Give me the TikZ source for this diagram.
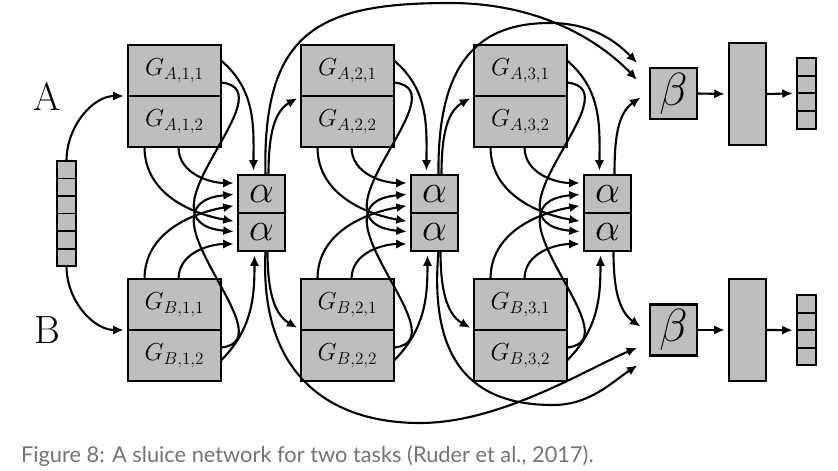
\RequirePackage{fix-cm}
\documentclass[tikz,border=0pt]{standalone}
\usepackage{amsmath,amssymb}
\usepackage{fontspec}
\newfontfamily\captionfont{Lato}
\usetikzlibrary{positioning,calc,arrows.meta}
\definecolor{boxgray}{RGB}{190,190,190}
\definecolor{captiongray}{RGB}{115,115,115}

\begin{document}
\begin{tikzpicture}[
                    x=0.025cm, y=0.025cm,
                    ->,
                    >={Latex[length=7.5pt,width=6.5pt]},
                    shorten >=3pt,
                    line width=1.5pt,
                    sub/.style={draw, fill=boxgray, line width=1.7pt, inner sep=0pt, outer sep=0pt,
                        minimum width=2.325cm, minimum height=1.275cm,
                        font=\fontsize{17.5}{20}\selectfont},
                    mix/.style={draw, fill=boxgray, line width=1.7pt, inner sep=0pt, outer sep=0pt,
                        minimum width=1.175cm, minimum height=0.95cm,
                        font=\fontsize{28}{30}\selectfont},
                    fc/.style={draw, fill=boxgray, line width=1.7pt, inner sep=0pt, outer sep=0pt,
                        minimum width=0.925cm, minimum height=2.55cm},
                    cell/.style={draw, fill=boxgray, line width=1.4pt, inner sep=0pt, outer sep=0pt,
                        minimum width=0.475cm, minimum height=0.4375cm},
                    task/.style={font=\fontsize{28}{30}\selectfont}
                ]
                \useasboundingbox (0,0) rectangle (838,470);

                % input vector and task labels
                \node[cell] (in1) at (66.5,300.25) {};
                \node[cell, below=0pt of in1] (in2) {};
                \node[cell, below=0pt of in2] (in3) {};
                \node[cell, below=0pt of in3] (in4) {};
                \node[cell, below=0pt of in4] (in5) {};
                \node[cell, below=0pt of in5] (in6) {};
                \node[task] (labA) at (47,373) {A};
                \node[task] (labB) at (47,140) {B};

                % layer 1
                \node[sub] (GA11) at (174.5,399.5) {$G_{A,1,1}$};
                \node[sub, below=0pt of GA11] (GA12) {$G_{A,1,2}$};
                \node[sub] (GB11) at (174.5,165.5) {$G_{B,1,1}$};
                \node[sub, below=0pt of GB11] (GB12) {$G_{B,1,2}$};
                \node[mix] (a1u) at (261.5,276) {$\alpha$};
                \node[mix, below=0pt of a1u] (a1l) {$\alpha$};

                % layer 2
                \node[sub] (GA21) at (347.5,399.5) {$G_{A,2,1}$};
                \node[sub, below=0pt of GA21] (GA22) {$G_{A,2,2}$};
                \node[sub] (GB21) at (347.5,165.5) {$G_{B,2,1}$};
                \node[sub, below=0pt of GB21] (GB22) {$G_{B,2,2}$};
                \node[mix] (a2u) at (434.5,276) {$\alpha$};
                \node[mix, below=0pt of a2u] (a2l) {$\alpha$};

                % layer 3
                \node[sub] (GA31) at (520.5,399.5) {$G_{A,3,1}$};
                \node[sub, below=0pt of GA31] (GA32) {$G_{A,3,2}$};
                \node[sub] (GB31) at (520.5,165.5) {$G_{B,3,1}$};
                \node[sub, below=0pt of GB31] (GB32) {$G_{B,3,2}$};
                \node[mix] (a3u) at (607.5,276) {$\alpha$};
                \node[mix, below=0pt of a3u] (a3l) {$\alpha$};

                % beta units and task outputs
                \node[mix, minimum height=1.275cm, font=\fontsize{33}{35}\selectfont] (betaA) at (673.5,376.5) {$\beta$};
                \node[mix, minimum height=1.275cm, font=\fontsize{33}{35}\selectfont] (betaB) at (673.5,140) {$\beta$};
                \node[fc] (fcA) at (747.5,376) {};
                \node[fc] (fcB) at (747.5,140) {};
                \node[cell, minimum height=0.44cm] (outA1) at (806.5,403.1) {};
                \node[cell, minimum height=0.44cm, below=0pt of outA1] (outA2) {};
                \node[cell, minimum height=0.44cm, below=0pt of outA2] (outA3) {};
                \node[cell, minimum height=0.44cm, below=0pt of outA3] (outA4) {};
                \node[cell, minimum height=0.44cm] (outB1) at (806.5,166.25) {};
                \node[cell, minimum height=0.44cm, below=0pt of outB1] (outB2) {};
                \node[cell, minimum height=0.44cm, below=0pt of outB2] (outB3) {};
                \node[cell, minimum height=0.44cm, below=0pt of outB3] (outB4) {};

                \node[anchor=west, inner sep=0pt, text=captiongray,
                      font=\captionfont\fontsize{15.5}{17}\selectfont] (caption) at (20,14)
                      {Figure 8: A sluice network for two tasks (Ruder et al., 2017).};

                % input to first layer
                \draw (in1.north) to[out=90,in=180] (GA11.south west);
                \draw (in6.south) to[out=-90,in=180] (GB11.south west);

                % layer 1 into alpha
                \draw ($(GA11.east)+(0,10)$) to[out=-40,in=90] ($(a1u.north)+(-8,0)$);
                \draw ($(GA11.east)+(0,-12)$) .. controls +(69,-7) and +(-108,10) .. (a1l.west);
                \draw ($(GA12.south)+(4,0)$) to[out=-90,in=180] ($(a1u.west)+(0,11)$);
                \draw ($(GA12.south)+(-30,0)$) to[out=-90,in=170] ($(a1l.west)+(0,10)$);
                \draw ($(GB11.north)+(-30,0)$) to[out=90,in=190] ($(a1u.west)+(0,-11)$);
                \draw ($(GB11.north)+(4,0)$) to[out=90,in=180] ($(a1l.west)+(0,-12)$);
                \draw ($(GB12.east)+(0,-5)$) to[out=45,in=-90] ($(a1l.south)+(-7,0)$);
                \draw ($(GB12.east)+(0,8)$) .. controls +(69,7) and +(-108,-10) .. (a1u.west);

                % layer 2 into alpha
                \draw ($(GA21.east)+(0,10)$) to[out=-40,in=90] ($(a2u.north)+(-8,0)$);
                \draw ($(GA21.east)+(0,-12)$) .. controls +(69,-7) and +(-108,10) .. (a2l.west);
                \draw ($(GA22.south)+(4,0)$) to[out=-90,in=180] ($(a2u.west)+(0,11)$);
                \draw ($(GA22.south)+(-30,0)$) to[out=-90,in=170] ($(a2l.west)+(0,10)$);
                \draw ($(GB21.north)+(-30,0)$) to[out=90,in=190] ($(a2u.west)+(0,-11)$);
                \draw ($(GB21.north)+(4,0)$) to[out=90,in=180] ($(a2l.west)+(0,-12)$);
                \draw ($(GB22.east)+(0,-5)$) to[out=45,in=-90] ($(a2l.south)+(-7,0)$);
                \draw ($(GB22.east)+(0,8)$) .. controls +(69,7) and +(-108,-10) .. (a2u.west);

                % layer 3 into alpha
                \draw ($(GA31.east)+(0,10)$) to[out=-40,in=90] ($(a3u.north)+(-8,0)$);
                \draw ($(GA31.east)+(0,-12)$) .. controls +(69,-7) and +(-108,10) .. (a3l.west);
                \draw ($(GA32.south)+(4,0)$) to[out=-90,in=180] ($(a3u.west)+(0,11)$);
                \draw ($(GA32.south)+(-30,0)$) to[out=-90,in=170] ($(a3l.west)+(0,10)$);
                \draw ($(GB31.north)+(-30,0)$) to[out=90,in=190] ($(a3u.west)+(0,-11)$);
                \draw ($(GB31.north)+(4,0)$) to[out=90,in=180] ($(a3l.west)+(0,-12)$);
                \draw ($(GB32.east)+(0,-5)$) to[out=45,in=-90] ($(a3l.south)+(-7,0)$);
                \draw ($(GB32.east)+(0,8)$) .. controls +(69,7) and +(-108,-10) .. (a3u.west);

                % alpha to next layer
                \draw ($(a1u.north)+(7,0)$) to[out=90,in=210] (GA21.south west);
                \draw ($(a1l.south)+(6,0)$) to[out=-90,in=150] (GB21.south west);
                \draw ($(a2u.north)+(7,0)$) to[out=90,in=210] (GA31.south west);
                \draw ($(a2l.south)+(6,0)$) to[out=-90,in=150] (GB31.south west);
                \draw ($(a3u.north)+(7,0)$) to[out=90,in=215] ($(betaA.west)+(-6,-1.5)$);
                \draw ($(a3l.south)+(6,0)$) to[out=-90,in=145] ($(betaB.west)+(-6,1)$);

                % skip connections to beta
                \coordinate (topA1) at (450,467);
                \coordinate (topA2) at (550,447);
                \coordinate (botB1) at (420,47);
                \coordinate (botB2) at (553,65);
                \draw ($(a1u.north)+(4,0)$) .. controls (262,440) and (320,467) .. (topA1)
                      .. controls (540,467) and (600,429) .. ($(betaA.west)+(-10,10.5)$);
                \draw ($(a2u.north)+(4,0)$) .. controls (437,410) and (480,447) .. (topA2)
                      .. controls (590,447) and (615,430) .. ($(betaA.west)+(-10,27.5)$);
                \draw ($(a1l.south)+(4,0)$) .. controls (259,95) and (330,47) .. (botB1)
                      .. controls (500,47) and (585,100) .. ($(betaB.west)+(-9,-16)$);
                \draw ($(a2l.south)+(4,0)$) .. controls (428,100) and (480,65) .. (botB2)
                      .. controls (590,65) and (612,88) .. ($(betaB.west)+(-9,-33)$);

                % task outputs
                \path
                (betaA.east) edge (fcA.west)
                (betaB.east) edge (fcB.west)
                (fcA.east) edge (outA2.south west)
                (fcB.east) edge (outB2.south west)
                ;
            \end{tikzpicture}
\end{document}
